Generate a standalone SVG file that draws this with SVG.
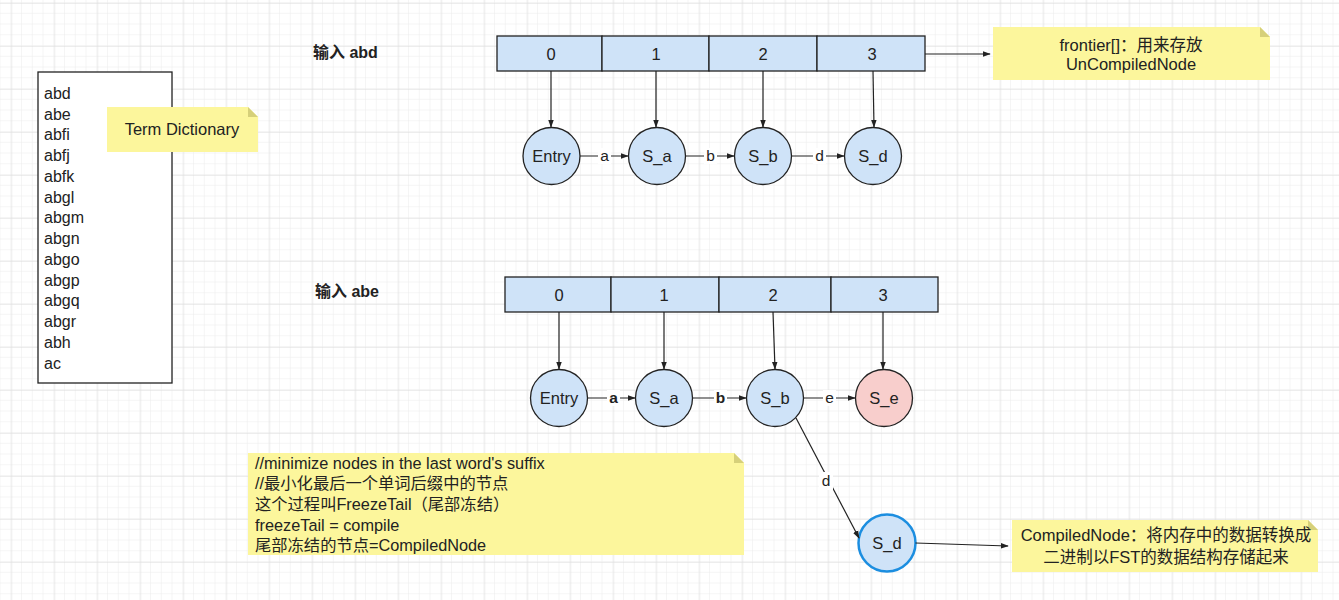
<svg xmlns="http://www.w3.org/2000/svg" width="1339" height="600" viewBox="0 0 1339 600">
<defs>
<pattern id="minor" x="0.5" y="3" width="10.75" height="10.75" patternUnits="userSpaceOnUse">
<path d="M10.75 0V10.75M0 10.75H10.75" fill="none" stroke="#ebebeb" stroke-width="1"/>
</pattern>
<pattern id="major" x="11.3" y="3" width="43" height="43" patternUnits="userSpaceOnUse">
<path d="M0 0V43M0 0H43" fill="none" stroke="#dcdcdc" stroke-width="1"/>
</pattern>
<marker id="arr" viewBox="0 0 10 10" refX="9" refY="5" markerWidth="8" markerHeight="8" orient="auto" markerUnits="userSpaceOnUse">
<path d="M0 1.5L10 5L0 8.5z" fill="#222"/>
</marker>
</defs>
<style>
text{font-family:"Liberation Sans","Noto Sans CJK SC",sans-serif;fill:#222;}
.cell{fill:#cfe3f8;stroke:#222;stroke-width:1.3;}
.st{fill:#cfe3f8;stroke:#222;stroke-width:1.3;}
.pink{fill:#f8cecc;stroke:#222;stroke-width:1.3;}
.comp{fill:#cfe3f8;stroke:#1c8ee0;stroke-width:2.5;}
.note{fill:#fcf69c;}
.fold{fill:#d6d07a;}
.lbl{font-size:16.5px;text-anchor:middle;}
.edge{stroke:#222;stroke-width:1.2;fill:none;marker-end:url(#arr);}
.el{font-size:15.5px;text-anchor:middle;}
.lst{font-size:16px;}
.fz{font-size:16.3px;}
</style>
<rect width="1339" height="600" fill="#fff"/>
<rect width="1339" height="600" fill="url(#minor)"/>
<rect width="1339" height="600" fill="url(#major)"/>

<g id="term-list">
<rect x="38" y="72" width="134" height="311" fill="#fff" stroke="#222" stroke-width="1.3"/>
<text class="lst" x="44" y="98.5">abd</text>
<text class="lst" x="44" y="119.5">abe</text>
<text class="lst" x="44" y="140">abfi</text>
<text class="lst" x="44" y="161">abfj</text>
<text class="lst" x="44" y="181.5">abfk</text>
<text class="lst" x="44" y="202.5">abgl</text>
<text class="lst" x="44" y="223">abgm</text>
<text class="lst" x="44" y="244">abgn</text>
<text class="lst" x="44" y="264.5">abgo</text>
<text class="lst" x="44" y="285.5">abgp</text>
<text class="lst" x="44" y="306">abgq</text>
<text class="lst" x="44" y="327">abgr</text>
<text class="lst" x="44" y="347.5">abh</text>
<text class="lst" x="44" y="368.5">ac</text>
</g>

<g id="note-term">
<path class="note" d="M107 107H248L258 117V152H107z"/>
<path class="fold" d="M248 107L258 117H248z"/>
<text class="lbl" x="182" y="135">Term Dictionary</text>
</g>

<g id="label-abd"><text x="313" y="58" font-size="16" font-weight="bold">输入 abd</text></g>
<g id="label-abe"><text x="315" y="297" font-size="16" font-weight="bold">输入 abe</text></g>

<g id="frontier1">
<rect class="cell" x="497" y="36" width="105" height="35"/>
<rect class="cell" x="602" y="36" width="107" height="35"/>
<rect class="cell" x="709" y="36" width="108" height="35"/>
<rect class="cell" x="817" y="36" width="108" height="35"/>
<text class="lbl" x="551" y="59.5">0</text>
<text class="lbl" x="656" y="59.5">1</text>
<text class="lbl" x="763" y="59.5">2</text>
<text class="lbl" x="872" y="59.5">3</text>
</g>

<g id="note-frontier">
<path class="note" d="M993 27H1260L1270 37V80H993z"/>
<path class="fold" d="M1260 27L1270 37H1260z"/>
<text class="lbl" x="1131" y="51">frontier[]：用来存放</text>
<text class="lbl" x="1131" y="70">UnCompiledNode</text>
</g>

<g id="n1-entry"><circle class="st" cx="551.5" cy="156" r="28.5"/><text class="lbl" x="551.5" y="161.5">Entry</text></g>
<g id="n1-sa"><circle class="st" cx="657" cy="156" r="28.5"/><text class="lbl" x="657" y="161.5">S_a</text></g>
<g id="n1-sb"><circle class="st" cx="763" cy="156" r="28.5"/><text class="lbl" x="763" y="161.5">S_b</text></g>
<g id="n1-sd"><circle class="st" cx="873" cy="156" r="28.5"/><text class="lbl" x="873" y="161.5">S_d</text></g>

<g id="frontier2">
<rect class="cell" x="505" y="277" width="106" height="35"/>
<rect class="cell" x="611" y="277" width="108" height="35"/>
<rect class="cell" x="719" y="277" width="112" height="35"/>
<rect class="cell" x="831" y="277" width="107" height="35"/>
<text class="lbl" x="559" y="300.5">0</text>
<text class="lbl" x="664" y="300.5">1</text>
<text class="lbl" x="773" y="300.5">2</text>
<text class="lbl" x="883" y="300.5">3</text>
</g>

<g id="n2-entry"><circle class="st" cx="559" cy="398" r="28.5"/><text class="lbl" x="559" y="403.5">Entry</text></g>
<g id="n2-sa"><circle class="st" cx="664" cy="398" r="28.5"/><text class="lbl" x="664" y="403.5">S_a</text></g>
<g id="n2-sb"><circle class="st" cx="775" cy="398" r="28.5"/><text class="lbl" x="775" y="403.5">S_b</text></g>
<g id="n2-se"><circle class="pink" cx="884" cy="398" r="28.5"/><text class="lbl" x="884" y="403.5">S_e</text></g>
<g id="n2-sd"><circle class="comp" cx="887" cy="543" r="28.5"/><text class="lbl" x="887" y="548.5">S_d</text></g>

<g id="note-freeze">
<path class="note" d="M248 453H734L744 463V555H248z"/>
<path class="fold" d="M734 453L744 463H734z"/>
<text class="fz" x="255" y="469">//minimize nodes in the last word's suffix</text>
<text class="fz" x="255" y="489">//最小化最后一个单词后缀中的节点</text>
<text class="fz" x="255" y="510">这个过程叫FreezeTail（尾部冻结）</text>
<text class="fz" x="255" y="531">freezeTail = compile</text>
<text class="fz" x="255" y="551">尾部冻结的节点=CompiledNode</text>
</g>

<g id="note-compiled">
<path class="note" d="M1012 520H1308L1318 530V572H1012z"/>
<path class="fold" d="M1308 520L1318 530H1308z"/>
<text class="lbl" x="1166" y="541">CompiledNode：将内存中的数据转换成</text>
<text class="lbl" x="1166" y="563">二进制以FST的数据结构存储起来</text>
</g>

<g id="connectors">
<path class="edge" d="M551 71V127"/>
<path class="edge" d="M656 71V127"/>
<path class="edge" d="M763 71V127"/>
<path class="edge" d="M873 71L874 127"/>
<path class="edge" d="M925 54H990"/>
<path class="edge" d="M580 156H628"/>
<path class="edge" d="M685.5 156H734"/>
<path class="edge" d="M791.5 156H844"/>
<path class="edge" d="M559 312V369"/>
<path class="edge" d="M664 312V369"/>
<path class="edge" d="M773 312L775 369"/>
<path class="edge" d="M883 312V369"/>
<path class="edge" d="M587.5 398H635"/>
<path class="edge" d="M692.5 398H746"/>
<path class="edge" d="M803.5 398H855"/>
<path class="edge" d="M796 418L859 538"/>
<path class="edge" d="M915.5 543L1008 546"/>
<rect x="598" y="148" width="13" height="16" fill="#fff"/><text class="el" x="604.5" y="161">a</text>
<rect x="704" y="148" width="13" height="16" fill="#fff"/><text class="el" x="710.5" y="161">b</text>
<rect x="813" y="148" width="13" height="16" fill="#fff"/><text class="el" x="819.5" y="161">d</text>
<rect x="607" y="390" width="13" height="16" fill="#fff"/><text class="el" x="613.5" y="403" font-weight="bold">a</text>
<rect x="714" y="390" width="13" height="16" fill="#fff"/><text class="el" x="720.5" y="403" font-weight="bold">b</text>
<rect x="823" y="390" width="13" height="16" fill="#fff"/><text class="el" x="829.5" y="403">e</text>
<rect x="819" y="472" width="14" height="18" fill="#fff"/><text class="el" x="826" y="486">d</text>
</g>
</svg>
